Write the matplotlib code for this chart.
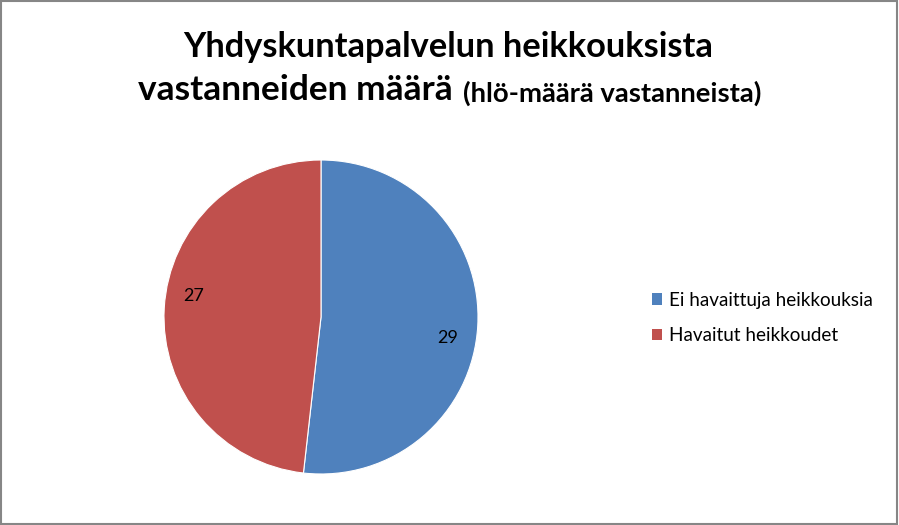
import numpy as np
import matplotlib
matplotlib.use("Agg")
import matplotlib.pyplot as plt
from matplotlib.patches import Rectangle

plt.rcParams["font.family"] = ["Lato", "DejaVu Sans"]

title1 = "Yhdyskuntapalvelun heikkouksista"
title2a = "vastanneiden määrä"
title2b = "(hlö-määrä vastanneista)"
labels = ["Ei havaittuja heikkouksia", "Havaitut heikkoudet"]
values = [29, 27]
colors = ["#4F81BD", "#C0504D"]

W, H = 899, 525
fig = plt.figure(figsize=(W / 100, H / 100), dpi=100)
fig.patches.append(Rectangle((0.001, 0.001), 0.997, 0.997, transform=fig.transFigure,
                             fill=False, edgecolor="#868686", linewidth=1.5))
renderer = fig.canvas.get_renderer()


def fit_text(x0, x1, yc, s, size, **kw):
    # put text so that it spans x0..x1 pixels
    t = fig.text(x0 / W, 1 - yc / H, s, ha="left", va="center", fontsize=size, **kw)
    w = t.get_window_extent(renderer).width
    t.set_fontsize(size * (x1 - x0) / w)
    return t


fit_text(183, 713, 47, title1, 24, fontweight="bold")
fit_text(138, 453, 90, title2a, 24, fontweight="bold")
fit_text(463, 762, 93, title2b, 18, fontweight="bold")

# pie area: centre (321, 317) px, radius 157 px
cx, cy, r = 321, 317, 157
ax = fig.add_axes([(cx - r) / W, 1 - (cy + r) / H, 2 * r / W, 2 * r / H])
wedges, _ = ax.pie(values, colors=colors, startangle=90, counterclock=False,
                   wedgeprops=dict(edgecolor="white", linewidth=0.8))
ax.set_aspect("equal")
ax.set_xlim(-1, 1)
ax.set_ylim(-1, 1)

for w, v in zip(wedges, values):
    ang = np.deg2rad((w.theta1 + w.theta2) / 2 - 6)
    ax.text(0.82 * np.cos(ang), 0.82 * np.sin(ang), str(v), ha="center", va="center",
            fontsize=13, color="black")

handles = [Rectangle((0, 0), 1, 1, facecolor=c) for c in colors]
leg = fig.legend(handles, labels, loc="center left", bbox_to_anchor=(635 / W, 1 - 318 / H),
                 frameon=False, fontsize=13.6, handlelength=0.55, handleheight=0.55,
                 handletextpad=0.35, labelspacing=1.0)

fig.savefig("out.png", dpi=100)
